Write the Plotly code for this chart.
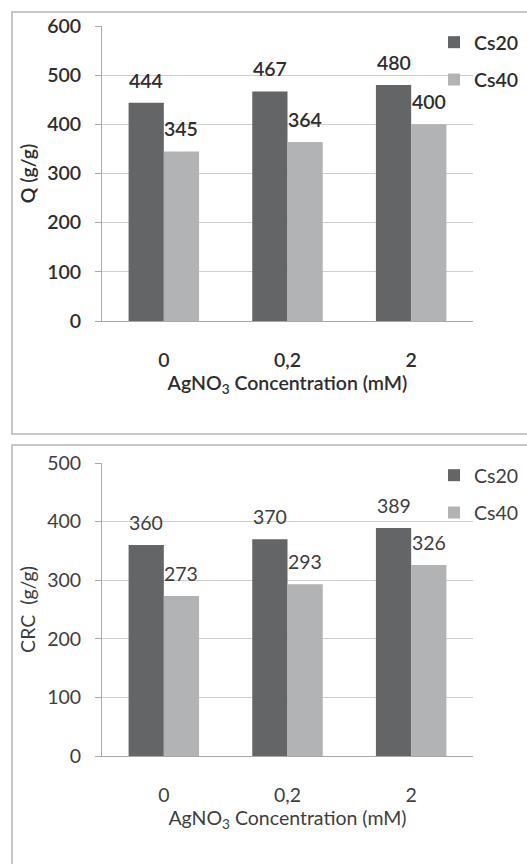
import plotly.graph_objects as go

categories = ["0", "0,2", "2"]
q_cs20 = [444, 467, 480]
q_cs40 = [345, 364, 400]
crc_cs20 = [360, 370, 389]
crc_cs40 = [273, 293, 326]
series_names = ["Cs20", "Cs40"]

W, H = 527, 864
C20 = "#646567"
C40 = "#b2b3b5"
TXT_TOP = "#2e2e2e"
TXT_BOT = "#3e3e3e"
FONT = "Lato, 'Open Sans', sans-serif"
FS = 19.5
BARGAP = 0.43
X0, X1 = 102, 473

def px_x(v):
    return v / W

def px_y(v):
    return 1 - v / H

fig = go.Figure()

panels = [
    (q_cs20, q_cs40, "x", "y", "legend", TXT_TOP, 600),
    (crc_cs20, crc_cs40, "x2", "y2", "legend2", TXT_BOT, 400),
]

cat_w = (X1 - X0) / len(categories)
bar_w = cat_w * (1 - BARGAP) / 2

annotations = []
for p, (s20, s40, xa, ya, lg, txtc, wt) in enumerate(panels):
    for vals, name, col, sh in [(s20, series_names[0], C20, -bar_w / 2),
                                (s40, series_names[1], C40, bar_w / 2)]:
        fig.add_trace(go.Bar(
            x=categories, y=vals, name=name, marker=dict(color=col, line=dict(width=0)),
            xaxis=xa, yaxis=ya, legend=lg, legendgroup=f"{name}_{p}",
        ))
        for c, v in zip(categories, vals):
            annotations.append(dict(
                x=c, y=v, xref=xa, yref=ya, text=str(v), showarrow=False,
                xshift=sh, yanchor="bottom", yshift=9,
                font=dict(size=FS, color=txtc, family=FONT, weight=wt),
            ))

def xaxis_cfg(y, txtc, wt):
    return dict(domain=[px_x(X0), px_x(X1)], anchor=y, ticks="", automargin=False,
                showline=True, linecolor="#a8a8a8", linewidth=1,
                tickfont=dict(size=FS, color=txtc, family=FONT, weight=wt),
                ticklabelstandoff=22,
                title=dict(text="AgNO<sub>3</sub> Concentration (mM)",
                           font=dict(size=FS, color=txtc, family=FONT, weight=wt), standoff=4))

def yaxis_cfg(x, dom, rng, title, txtc, wt):
    return dict(domain=dom, anchor=x, range=rng, dtick=100, automargin=False,
                showline=True, linecolor="#a8a8a8", linewidth=1,
                showgrid=True, gridcolor="#cfcfcf", ticks="outside", ticklen=6,
                tickcolor="#a8a8a8", ticklabelstandoff=10,
                tickfont=dict(size=FS, color=txtc, family=FONT, weight=wt),
                title=dict(text=title, font=dict(size=FS, color=txtc, family=FONT, weight=wt),
                           standoff=6))

def legend_cfg(ytop, txtc, wt):
    return dict(x=px_x(434), y=px_y(ytop), xanchor="left", yanchor="top",
                font=dict(size=FS, color=txtc, family=FONT, weight=wt),
                bgcolor="rgba(0,0,0,0)", itemwidth=30, tracegroupgap=9)

fig.update_layout(
    width=W, height=H, margin=dict(l=0, r=0, t=0, b=0, autoexpand=False),
    paper_bgcolor="white", plot_bgcolor="white",
    barmode="group", bargap=BARGAP, bargroupgap=0,
    font=dict(family=FONT, color=TXT_BOT),
    xaxis=xaxis_cfg("y", TXT_TOP, 600),
    yaxis=yaxis_cfg("x", [px_y(321), px_y(26)], [0, 600], "Q (g/g)", TXT_TOP, 600),
    xaxis2=xaxis_cfg("y2", TXT_BOT, 400),
    yaxis2=yaxis_cfg("x2", [px_y(756), px_y(463)], [0, 500], "CRC  (g/g)", TXT_BOT, 400),
    legend=legend_cfg(23, TXT_TOP, 600),
    legend2=legend_cfg(456, TXT_BOT, 400),
    annotations=annotations,
    shapes=[
        dict(type="rect", xref="paper", yref="paper", x0=px_x(12), x1=px_x(540),
             y0=px_y(434), y1=px_y(12), line=dict(color="#b5b5b5", width=1.5)),
        dict(type="rect", xref="paper", yref="paper", x0=px_x(12), x1=px_x(540),
             y0=px_y(880), y1=px_y(445), line=dict(color="#b5b5b5", width=1.5)),
    ],
)

fig.write_html("out.html")
